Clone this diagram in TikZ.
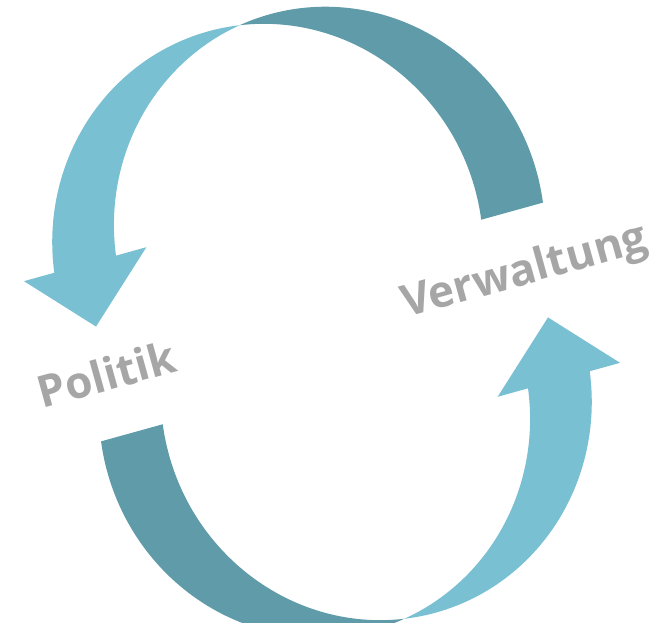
\documentclass[tikz,border=0pt]{standalone}
\usepackage{fontspec}
\setmainfont{Open Sans}
\definecolor{lightb}{RGB}{121,192,211}
\definecolor{darkb}{RGB}{95,155,169}
\definecolor{txtgray}{RGB}{166,166,166}
\tikzset{
  ell/.style={x radius=215pt, y radius=223pt},
  lbl/.style={text=txtgray, font=\fontsize{44}{52}\selectfont\bfseries, inner sep=0pt, anchor=base, rotate=15.5},
  ribbonarrow/.pic={
    % back (dark) half, from the tail up to the twist
    \fill[darkb] (0,308) arc[start angle=98.56, end angle=-8.12, ell]
      -- (180.8,56) arc[start angle=-8.12, end angle=81.44, ell] -- cycle;
    % front (light) half, from the twist down to the head
    \fill[lightb] (0,308) arc[start angle=81.44, end angle=171.88, ell]
      -- (-276.3,119) -- (-219,56) -- (-149.3,119) -- (-180.8,119)
      arc[start angle=171.88, end angle=98.56, ell] -- cycle;
  }
}
\begin{document}
\begin{tikzpicture}[x=1pt,y=1pt]
  \useasboundingbox (0,0) rectangle (662,623);
  \fill[white] (0,0) rectangle (662,623);
  \pic[rotate=15.5] at (322,301) {ribbonarrow};
  \pic[rotate=195.5] at (322,301) {ribbonarrow};
  \node[lbl] (politik) at (111,233) {Politik};
  \node[lbl] (verwaltung) at (528,339) {Verwaltung};
\end{tikzpicture}
\end{document}
